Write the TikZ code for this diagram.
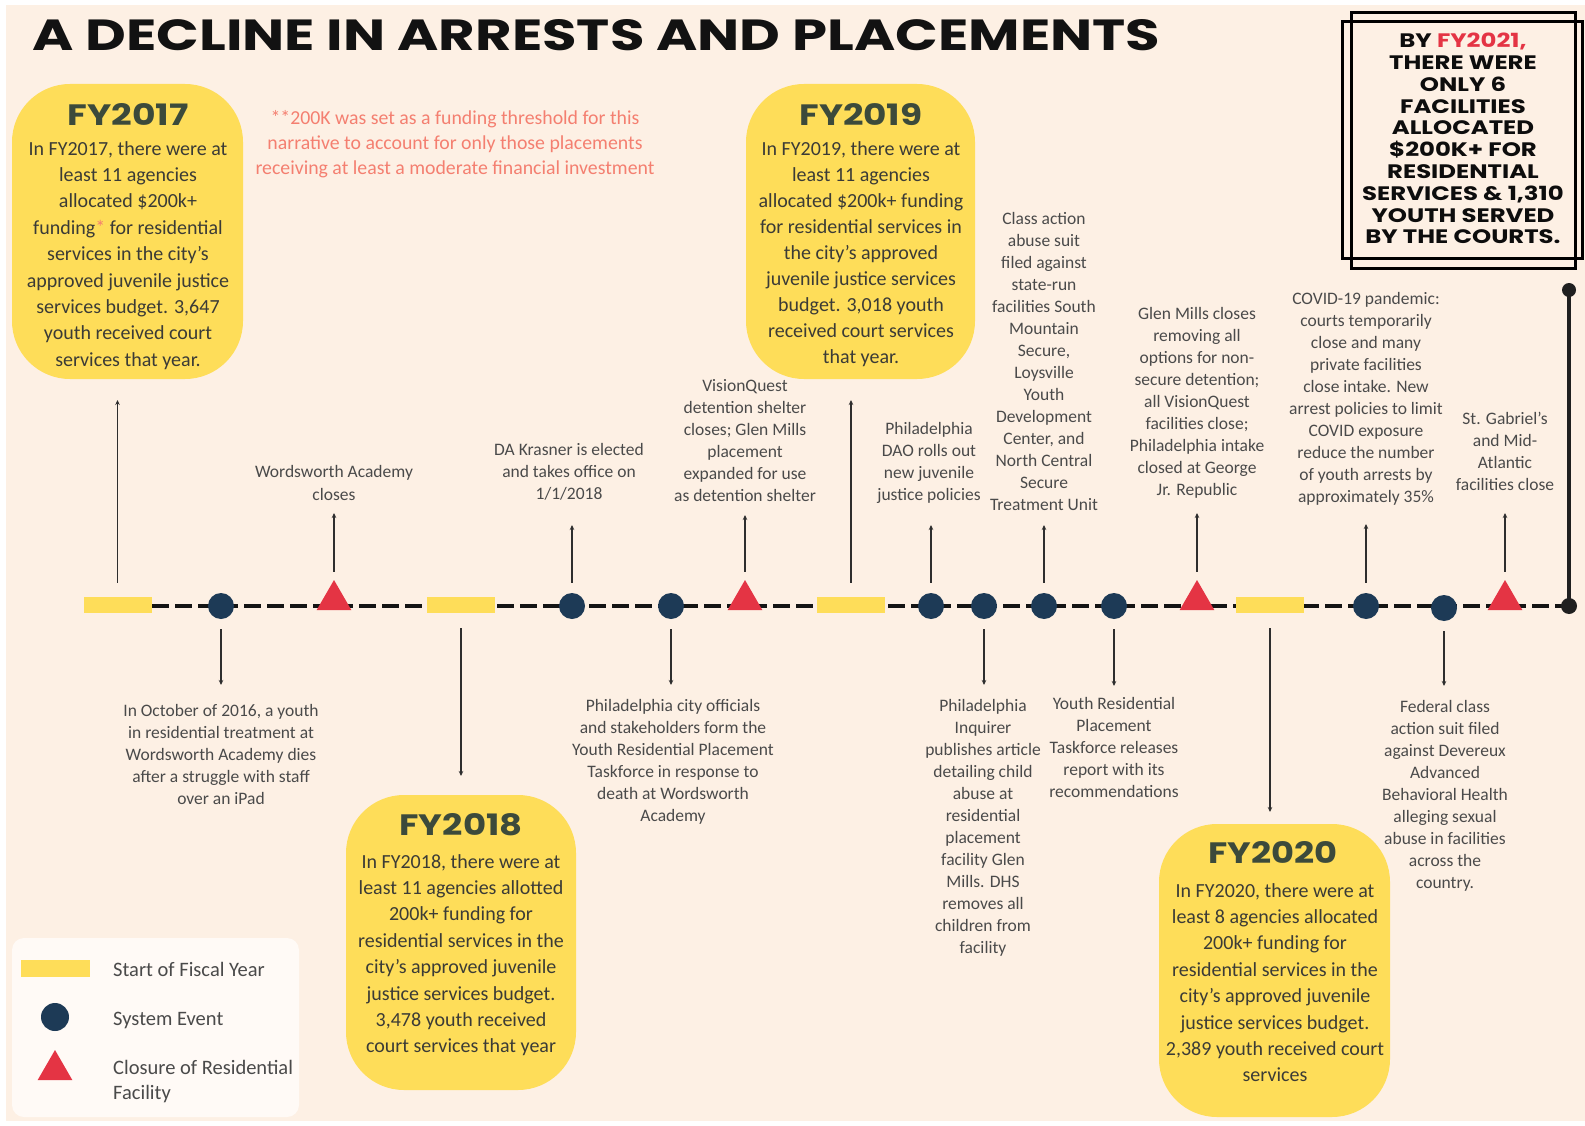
\documentclass[tikz,border=0pt]{standalone}
\usepackage{fontspec}
\setmainfont{Carlito}
\newfontfamily\titlefont{Poppins}
\newfontfamily\boxfont[FakeStretch=1.25]{Poppins}
\usetikzlibrary{shapes.geometric,arrows.meta}
\definecolor{bgpeach}{HTML}{FDF0E4}
\definecolor{fyyellow}{HTML}{FEDD59}
\definecolor{navy}{HTML}{1D3A56}
\definecolor{redc}{HTML}{E43444}
\definecolor{evgray}{HTML}{4A4A4A}
\definecolor{bodygray}{HTML}{3B3B36}
\definecolor{fytitle}{HTML}{3C4A3B}
\definecolor{pinkc}{HTML}{F47F70}
\definecolor{arrgray}{HTML}{2E2E2E}
\definecolor{legendbg}{HTML}{FFFAF6}
\begin{document}
\begin{tikzpicture}[x=1pt,y=-1pt,
  evt/.style={font=\fontsize{17.5}{22}\selectfont, text=evgray, align=center, inner sep=0pt, anchor=north},
  fybody/.style={font=\fontsize{20}{26.4}\selectfont, text=bodygray, align=center, inner sep=0pt, anchor=north},
  fytitlestyle/.style={anchor=base, inner sep=0pt, text=fytitle},
  arr/.style={-{Stealth[length=5pt,width=4.5pt]}, line width=1.3pt, draw=arrgray, shorten <=10pt},
  fybox/.style={fill=fyyellow, rounded corners=58pt, draw=none, inner sep=0pt},
  fyrect/.style={fill=fyyellow, minimum width=68pt, minimum height=16pt, inner sep=0pt},
  evdot/.style={circle, fill=navy, minimum size=26pt, inner sep=0pt},
  closure/.style={regular polygon, regular polygon sides=3, fill=redc, minimum size=40pt, inner sep=0pt},
  enddot/.style={circle, fill=black!88, minimum size=16pt, inner sep=0pt},
  tl/.style={line width=3.5pt, draw=black!92, dash pattern=on 17pt off 6pt},
  legtext/.style={font=\fontsize{20.5}{25}\selectfont, text=evgray, inner sep=0pt, align=left}
]
\useasboundingbox (0,0) rectangle (1585,1126);
\fill[white] (0,0) rectangle (1585,1126);
\fill[bgpeach] (6,5) rectangle (1585,1121);

% title
\node[anchor=base west, inner sep=0pt, text=black!93] (title) at (32,51)
  {\resizebox{1128pt}{31pt}{\titlefont\bfseries A DECLINE IN ARRESTS AND PLACEMENTS}};

% fiscal-year boxes
\node[fybox, minimum width=231pt, minimum height=295pt] (fy17box) at (127.5,231.5) {};
\node[fybox, minimum width=229pt, minimum height=295pt] (fy19box) at (860.5,231.5) {};
\node[fybox, minimum width=230pt, minimum height=295pt] (fy18box) at (461,942.5) {};
\node[fybox, minimum width=231pt, minimum height=293pt] (fy20box) at (1274.5,970.5) {};

\node[fytitlestyle] (fy17t) at (128,126) {\resizebox{121pt}{22pt}{\titlefont\bfseries FY2017}};
\node[fytitlestyle] (fy19t) at (861,126) {\resizebox{123pt}{22pt}{\titlefont\bfseries FY2019}};
\node[fytitlestyle] (fy18t) at (461,835) {\resizebox{123pt}{22pt}{\titlefont\bfseries FY2018}};
\node[fytitlestyle] (fy20t) at (1273,863) {\resizebox{129pt}{22pt}{\titlefont\bfseries FY2020}};

\node[fybody] (fy17b) at (128,141) {In FY2017, there were at\\least 11 agencies\\allocated \$200k+\\funding{\color{pinkc}*} for residential\\services in the city's\\approved juvenile justice\\services budget. 3,647\\youth received court\\services that year.};
\node[fybody, font=\fontsize{20}{26}\selectfont] (fy19b) at (861,141) {In FY2019, there were at\\least 11 agencies\\allocated \$200k+ funding\\for residential services in\\the city's approved\\juvenile justice services\\budget. 3,018 youth\\received court services\\that year.};
\node[fybody] (fy18b) at (461,854) {In FY2018, there were at\\least 11 agencies allotted\\200k+ funding for\\residential services in the\\city's approved juvenile\\justice services budget.\\3,478 youth received\\court services that year};
\node[fybody] (fy20b) at (1275,883) {In FY2020, there were at\\least 8 agencies allocated\\200k+ funding for\\residential services in the\\city's approved juvenile\\justice services budget.\\2,389 youth received court\\services};

% note
\node[anchor=north, align=center, inner sep=0pt, text=pinkc, font=\fontsize{19.8}{25}\selectfont] (note) at (455,110)
  {**200K was set as a funding threshold for this\\narrative to account for only those placements\\receiving at least a moderate financial investment};

% FY2021 framed box
\draw[line width=3pt, black] (1351,13) rectangle (1575,268);
\draw[line width=3pt, black] (1342,22) rectangle (1582,258);
\node[anchor=north, align=center, inner sep=0pt, text=black!95, font=\boxfont\bfseries\fontsize{19.5}{21.8}\selectfont] (fy21) at (1463,33)
  {BY {\color{redc}FY2021,}\\THERE WERE\\ONLY 6\\FACILITIES\\ALLOCATED\\\$200K+ FOR\\RESIDENTIAL\\SERVICES \& 1,310\\YOUTH SERVED\\BY THE COURTS.};

% timeline
\coordinate (tlS) at (152,606);
\coordinate (tlE) at (1569,606);
\coordinate (tlTop) at (1569,290);
\draw[tl] (tlS) -- (tlE);
\draw[line width=3.5pt, black!88] (tlE) -- (tlTop);
\node[circle, fill=black!88, minimum size=14pt, inner sep=0pt] (topdot) at (tlTop) {};

\node[fyrect] (m1) at (117.5,605) {};
\node[evdot] (m2) at (221,606) {};
\node[closure] (m3) at (334,600) {};
\node[fyrect] (m4) at (461,605) {};
\node[evdot] (m5) at (572,606) {};
\node[evdot] (m6) at (671,606) {};
\node[closure] (m7) at (745,600) {};
\node[fyrect] (m8) at (851,605) {};
\node[evdot] (m9) at (931,606) {};
\node[evdot] (m10) at (984,606) {};
\node[evdot] (m11) at (1044,606) {};
\node[evdot] (m12) at (1114,606) {};
\node[closure] (m13) at (1197,600) {};
\node[fyrect] (m14) at (1270,605) {};
\node[evdot] (m15) at (1366,606) {};
\node[evdot] (m16) at (1444,608) {};
\node[closure] (m17) at (1505,600) {};
\node[enddot] (m18) at (tlE) {};

% arrow ends
\coordinate (u1) at (117.5,400);
\coordinate (u3) at (334,513);
\coordinate (u5) at (572,525);
\coordinate (u7) at (745,515);
\coordinate (u8) at (851,400);
\coordinate (u9) at (931,525);
\coordinate (u11) at (1044,525);
\coordinate (u13) at (1197,513);
\coordinate (u15) at (1366,524);
\coordinate (u17) at (1505,513);
\coordinate (d2) at (221,685);
\coordinate (d4) at (461,776);
\coordinate (d6) at (671,685);
\coordinate (d10) at (984,685);
\coordinate (d12) at (1114,686);
\coordinate (d14) at (1270,812);
\coordinate (d16) at (1444,686);

\draw[arr, shorten <=14pt] (m1.north) -- (u1);
\draw[arr, shorten <=8pt] (m3.north) -- (u3);
\draw[arr] (m5.north) -- (u5);
\draw[arr, shorten <=8pt] (m7.north) -- (u7);
\draw[arr, shorten <=14pt] (m8.north) -- (u8);
\draw[arr] (m9.north) -- (u9);
\draw[arr] (m11.north) -- (u11);
\draw[arr, shorten <=8pt] (m13.north) -- (u13);
\draw[arr] (m15.north) -- (u15);
\draw[arr, shorten <=8pt] (m17.north) -- (u17);
\draw[arr] (m2.south) -- (d2);
\draw[arr, shorten <=15pt] (m4.south) -- (d4);
\draw[arr] (m6.south) -- (d6);
\draw[arr] (m10.south) -- (d10);
\draw[arr] (m12.south) -- (d12);
\draw[arr, shorten <=15pt] (m14.south) -- (d14);
\draw[arr] (m16.south) -- (d16);

% event labels above
\node[evt, font=\fontsize{17.5}{23.2}\selectfont] (ea) at (334,465) {Wordsworth Academy\\closes};
\node[evt] (eb) at (569,443) {DA Krasner is elected\\and takes office on\\1/1/2018};
\node[evt] (ec) at (745,379) {VisionQuest\\detention shelter\\closes; Glen Mills\\placement\\expanded for use\\as detention shelter};
\node[evt] (ed) at (929,422) {Philadelphia\\DAO rolls out\\new juvenile\\justice policies};
\node[evt] (ee) at (1044,212) {Class action\\abuse suit\\filed against\\state-run\\facilities South\\Mountain\\Secure,\\Loysville\\Youth\\Development\\Center, and\\North Central\\Secure\\Treatment Unit};
\node[evt] (ef) at (1197,307) {Glen Mills closes\\removing all\\options for non-\\secure detention;\\all VisionQuest\\facilities close;\\Philadelphia intake\\closed at George\\Jr. Republic};
\node[evt] (eg) at (1366,292) {COVID-19 pandemic:\\courts temporarily\\close and many\\private facilities\\close intake. New\\arrest policies to limit\\COVID exposure\\reduce the number\\of youth arrests by\\approximately 35\%};
\node[evt] (eh) at (1505,412) {St. Gabriel's\\and Mid-\\Atlantic\\facilities close};

% event labels below
\node[evt] (ei) at (221,704) {In October of 2016, a youth\\in residential treatment at\\Wordsworth Academy dies\\after a struggle with staff\\over an iPad};
\node[evt] (ej) at (673,699) {Philadelphia city officials\\and stakeholders form the\\Youth Residential Placement\\Taskforce in response to\\death at Wordsworth\\Academy};
\node[evt] (ek) at (983,699) {Philadelphia\\Inquirer\\publishes article\\detailing child\\abuse at\\residential\\placement\\facility Glen\\Mills. DHS\\removes all\\children from\\facility};
\node[evt] (el) at (1114,697) {Youth Residential\\Placement\\Taskforce releases\\report with its\\recommendations};
\node[evt] (em) at (1445,700) {Federal class\\action suit filed\\against Devereux\\Advanced\\Behavioral Health\\alleging sexual\\abuse in facilities\\across the\\country.};

% legend
\node[fill=legendbg, rounded corners=12pt, minimum width=287pt, minimum height=179pt, inner sep=0pt] (legend) at (155.5,1027.5) {};
\node[fyrect, minimum width=69pt, minimum height=17pt] (lg1) at (55.5,968.5) {};
\node[evdot, minimum size=28pt] (lg2) at (55,1017) {};
\node[closure] (lg3) at (55,1070) {};
\node[legtext, anchor=mid west] (lt1) at (113,974) {Start of Fiscal Year};
\node[legtext, anchor=mid west] (lt2) at (113,1023) {System Event};
\node[legtext, anchor=north west] (lt3) at (113,1060) {Closure of Residential\\Facility};
\end{tikzpicture}
\end{document}
